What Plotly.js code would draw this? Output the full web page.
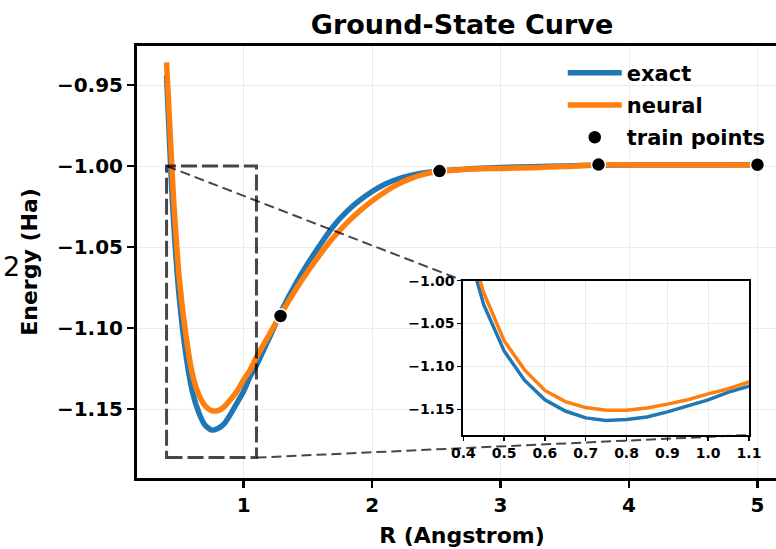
<!DOCTYPE html>
<html>
<head>
<meta charset="utf-8">
<script src="https://cdn.plot.ly/plotly-3.0.1.min.js"></script>
<style>
html,body{margin:0;padding:0;overflow:hidden;background:#fff;}
#chart{width:800px;height:549px;}
</style>
</head>
<body>
<div id="chart"></div>
<script>
// ---- data ----
var R = [0.40,0.45,0.50,0.55,0.60,0.65,0.70,0.75,0.80,0.85,0.90,0.95,1.00,1.05,1.10,
         1.20,1.30,1.40,1.50,1.60,1.70,1.80,1.90,2.00,2.10,2.20,2.30,2.40,2.50,2.60,
         2.80,3.00,3.25,3.50,3.75,4.00,4.50,5.00];
var exactE = [-0.944,-1.028,-1.082,-1.116,-1.139,-1.152,-1.160,-1.163,-1.162,-1.159,-1.153,-1.146,-1.139,-1.130,-1.123,
              -1.106,-1.0885,-1.0735,-1.0602,-1.0481,-1.0370,-1.0283,-1.0214,-1.0157,-1.0112,-1.0080,-1.0058,-1.0043,-1.0033,-1.0026,
              -1.0016,-1.0009,-1.0004,-1.0000,-0.9995,-0.9994,-0.9993,-0.9992];
var neuralE = [-0.936,-1.014,-1.070,-1.104,-1.128,-1.141,-1.148,-1.151,-1.151,-1.1485,-1.144,-1.1388,-1.132,-1.126,-1.118,
               -1.104,-1.090,-1.077,-1.065,-1.054,-1.044,-1.0354,-1.028,-1.0215,-1.0160,-1.0113,-1.0078,-1.0052,-1.0036,-1.0027,
               -1.0018,-1.0015,-1.0010,-1.0003,-0.9993,-0.9993,-0.9993,-0.9993];
var trainR = [1.2875, 2.525, 3.7625, 5.0];
var trainE = [-1.0926, -1.0031, -0.9991, -0.9992];
var zoomX = [0.4, 1.1];
var zoomY = [-1.18, -1.00];
var seriesNames = ['exact', 'neural', 'train points'];

// ---- layout constants ----
var BLUE = '#1f77b4', ORANGE = '#ff7f0e';
var FONT = 'DejaVu Sans, Verdana, sans-serif';
var mainXRange = [0.17, 5.23];
var mainYRange = [-1.1926, -0.9259];
var insetXDomain = [0.502, 0.9415];
var insetYDomain = [0.0995, 0.4567];

function toMain(range, frac){ return range[0] + frac * (range[1] - range[0]); }

var traces = [
  {x: R, y: exactE, type: 'scatter', mode: 'lines', name: seriesNames[0],
   line: {color: BLUE, width: 5.5, shape: 'spline', smoothing: 0.6}, xaxis: 'x', yaxis: 'y', legendgroup: 'a'},
  {x: R, y: neuralE, type: 'scatter', mode: 'lines', name: seriesNames[1],
   line: {color: ORANGE, width: 5.5, shape: 'spline', smoothing: 0.6}, xaxis: 'x', yaxis: 'y', legendgroup: 'b'},
  {x: trainR, y: trainE, type: 'scatter', mode: 'markers', name: seriesNames[2],
   marker: {color: 'black', size: 14, line: {color: 'white', width: 1.5}},
   xaxis: 'x', yaxis: 'y', legendgroup: 'c', cliponaxis: false},
  {x: R, y: exactE, type: 'scatter', mode: 'lines', showlegend: false,
   line: {color: BLUE, width: 3.5}, xaxis: 'x2', yaxis: 'y2'},
  {x: R, y: neuralE, type: 'scatter', mode: 'lines', showlegend: false,
   line: {color: ORANGE, width: 3.5}, xaxis: 'x2', yaxis: 'y2'}
];

var boxColor = 'rgba(0,0,0,0.72)';
var shapes = [
  {type: 'rect', xref: 'x', yref: 'y', x0: zoomX[0], x1: zoomX[1], y0: zoomY[0], y1: zoomY[1],
   line: {color: boxColor, width: 3, dash: '16px,5px'}, fillcolor: 'rgba(0,0,0,0)', layer: 'above'},
  {type: 'line', xref: 'x', yref: 'y', x0: zoomX[0], y0: zoomY[1],
   x1: toMain(mainXRange, insetXDomain[0]), y1: toMain(mainYRange, insetYDomain[1]),
   line: {color: boxColor, width: 2, dash: '10px,5px'}, layer: 'above'},
  {type: 'line', xref: 'x', yref: 'y', x0: zoomX[1], y0: zoomY[0],
   x1: toMain(mainXRange, insetXDomain[1]), y1: toMain(mainYRange, insetYDomain[0]),
   line: {color: boxColor, width: 2, dash: '10px,5px'}, layer: 'above'}
];

var gridCol = '#ebebeb';
var layout = {
  width: 800, height: 549,
  margin: {l: 137, r: 13, t: 46, b: 71},
  paper_bgcolor: 'white', plot_bgcolor: 'white',
  showlegend: true,
  title: {text: 'Ground-State Curve', x: 0.5, xref: 'paper', xanchor: 'center',
          y: 1 - 25/549, yref: 'container', yanchor: 'middle',
          font: {family: FONT, size: 27, color: 'black', weight: 'bold'}},
  xaxis: {range: mainXRange, dtick: 1, tick0: 0, showgrid: true, gridcolor: gridCol, gridwidth: 1,
          zeroline: false, showline: true, linecolor: 'black', linewidth: 3, mirror: true,
          ticks: 'outside', ticklen: 7, tickwidth: 2.5, tickcolor: 'black',
          tickfont: {family: FONT, size: 20, color: 'black', weight: 'bold'},
          title: {text: 'R (Angstrom)', standoff: 12,
                  font: {family: FONT, size: 22, color: 'black', weight: 'bold'}}},
  yaxis: {range: mainYRange, dtick: 0.05, tick0: -1, tickformat: '.2f',
          showgrid: true, gridcolor: gridCol, gridwidth: 1,
          zeroline: false, showline: true, linecolor: 'black', linewidth: 3, mirror: true,
          ticks: 'outside', ticklen: 7, tickwidth: 2.5, tickcolor: 'black',
          tickfont: {family: FONT, size: 20, color: 'black', weight: 'bold'},
          title: {text: 'Energy (Ha)', standoff: 14,
                  font: {family: FONT, size: 22, color: 'black', weight: 'bold'}}},
  xaxis2: {domain: insetXDomain, anchor: 'y2', range: zoomX, dtick: 0.1, tick0: 0.4, tickformat: '.1f',
           showgrid: true, gridcolor: gridCol, zeroline: false,
           showline: true, linecolor: 'black', linewidth: 2, mirror: true,
           ticks: 'outside', ticklen: 4, tickwidth: 1.5, tickcolor: 'black',
           tickfont: {family: FONT, size: 14, color: 'black', weight: 'bold'}},
  yaxis2: {domain: insetYDomain, anchor: 'x2', range: zoomY, dtick: 0.05, tick0: -1, tickformat: '.2f',
           showgrid: true, gridcolor: gridCol, zeroline: false,
           showline: true, linecolor: 'black', linewidth: 2, mirror: true,
           ticks: 'outside', ticklen: 4, tickwidth: 1.5, tickcolor: 'black',
           tickfont: {family: FONT, size: 14, color: 'black', weight: 'bold'}},
  legend: {x: 0.655, y: 0.985, xanchor: 'left', yanchor: 'top', xref: 'paper', yref: 'paper',
           bgcolor: 'rgba(255,255,255,0)', borderwidth: 0, traceorder: 'grouped', tracegroupgap: 2,
           itemwidth: 54,
           font: {family: FONT, size: 21, color: 'black', weight: 'bold'}},
  shapes: shapes,
  annotations: [
    {text: '2', xref: 'paper', yref: 'paper', x: (11 - 137) / 650, y: (478 - 266) / 432,
     xanchor: 'center', yanchor: 'middle', showarrow: false,
     font: {family: FONT, size: 27, color: 'black'}}
  ]
};

Plotly.newPlot('chart', traces, layout, {displayModeBar: false, staticPlot: true});
</script>
</body>
</html>
